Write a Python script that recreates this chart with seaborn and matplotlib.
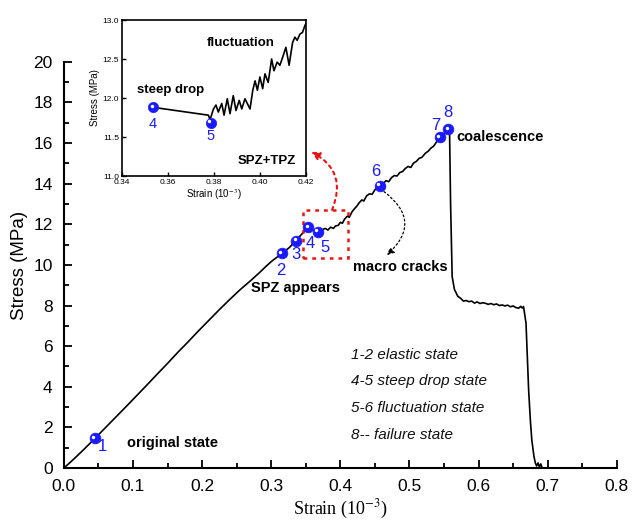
import numpy as np
import pandas as pd
import matplotlib
matplotlib.use("Agg")
import matplotlib.pyplot as plt
import seaborn as sns
from matplotlib.patches import Rectangle
from matplotlib.ticker import MultipleLocator
import matplotlib.transforms as mtransforms

# ---------------- data ----------------
strain = [0.000, 0.010, 0.020, 0.030, 0.045, 0.060, 0.075, 0.090, 0.105, 0.120,
          0.135, 0.150, 0.165, 0.180, 0.195, 0.210, 0.225, 0.240, 0.255, 0.270,
          0.283, 0.293, 0.302, 0.310, 0.316, 0.326, 0.336,
          0.345, 0.3535, 0.360, 0.3675, 0.372, 0.378, 0.382, 0.386, 0.390, 0.393,
          0.397, 0.400, 0.403, 0.406, 0.410, 0.413, 0.417, 0.420, 0.424, 0.427,
          0.431, 0.434, 0.438, 0.442, 0.446, 0.450, 0.457, 0.462, 0.466, 0.470,
          0.474, 0.478, 0.482, 0.486, 0.490, 0.494, 0.498, 0.502, 0.506, 0.510,
          0.514, 0.518, 0.523, 0.527, 0.531, 0.535, 0.539, 0.544, 0.548, 0.552,
          0.556, 0.558, 0.5595, 0.5618, 0.565, 0.570, 0.574, 0.578, 0.582, 0.586,
          0.590, 0.594, 0.598, 0.602, 0.606, 0.610, 0.614, 0.618, 0.622, 0.626,
          0.630, 0.634, 0.638, 0.642, 0.646, 0.650, 0.654, 0.658, 0.661, 0.663,
          0.665, 0.6686, 0.6705, 0.6724, 0.675, 0.677, 0.680, 0.682, 0.684, 0.686,
          0.688, 0.690, 0.692]
stress = [0.00, 0.30, 0.62, 0.95, 1.46, 1.98, 2.50, 3.02, 3.55, 4.08,
          4.62, 5.15, 5.70, 6.22, 6.76, 7.28, 7.80, 8.30, 8.78, 9.22,
          9.62, 9.95, 10.22, 10.42, 10.58, 10.85, 11.20,
          11.55, 11.86, 11.74, 11.64, 11.70, 11.80, 11.72, 11.86, 11.80, 11.92,
          11.95, 12.10, 12.05, 12.25, 12.40, 12.35, 12.62, 12.75, 12.90, 13.05,
          13.20, 13.15, 13.40, 13.50, 13.48, 13.70, 13.89, 14.00, 14.15, 14.10,
          14.30, 14.40, 14.38, 14.55, 14.60, 14.75, 14.85, 14.80, 15.02, 15.10,
          15.25, 15.30, 15.50, 15.60, 15.75, 15.85, 16.05, 16.29, 16.40, 16.55,
          16.68, 16.60, 13.00, 9.42, 8.80, 8.45, 8.36, 8.22, 8.25, 8.19,
          8.22, 8.12, 8.18, 8.10, 8.14, 8.11, 8.06, 8.10, 8.04, 8.08,
          8.00, 8.03, 7.98, 8.02, 7.94, 7.98, 7.90, 7.87, 7.96, 7.88,
          7.95, 7.14, 5.50, 3.84, 2.30, 1.38, 0.60, 0.25, 0.10, 0.25,
          0.05, 0.20, 0.00]

point_labels = ["1", "2", "3", "4", "5", "6", "7", "8"]
point_strain = [0.0447, 0.3156, 0.336, 0.3535, 0.3675, 0.457, 0.544, 0.556]
point_stress = [1.46, 10.58, 11.20, 11.86, 11.64, 13.89, 16.29, 16.68]
label_x = [0.0563, 0.3146, 0.336, 0.3564, 0.378, 0.4512, 0.538, 0.5556]
label_y = [1.08, 9.75, 10.49, 11.08, 10.84, 14.60, 16.85, 17.49]

inset_strain = [0.3537, 0.3776, 0.3783, 0.3798, 0.3809, 0.3819, 0.3834, 0.3844,
                0.3858, 0.3870, 0.3884, 0.3896, 0.3910, 0.3921, 0.3935, 0.3957,
                0.3969, 0.3979, 0.3989, 0.4000, 0.4012, 0.4022, 0.4036, 0.4051,
                0.4061, 0.4075, 0.4087, 0.4101, 0.4113, 0.4127, 0.4142, 0.4152,
                0.4162, 0.4174, 0.4185, 0.4196, 0.4203]
inset_stress = [11.88, 11.78, 11.72, 11.86, 11.91, 11.82, 11.93, 11.78,
                11.99, 11.80, 12.03, 11.84, 11.97, 11.86, 11.99, 11.86,
                12.10, 12.22, 12.10, 12.27, 12.12, 12.31, 12.20, 12.50,
                12.35, 12.46, 12.42, 12.54, 12.65, 12.42, 12.71, 12.78,
                12.74, 12.82, 12.84, 12.93, 12.97]
inset_point_labels = ["4", "5"]
inset_point_strain = [0.3537, 0.3786]
inset_point_stress = [11.88, 11.68]
inset_label_x = [0.3535, 0.3786]
inset_label_y = [11.67, 11.51]

state_notes = ["1-2 elastic state", "4-5 steep drop state",
               "5-6 fluctuation state", "8-- failure state"]

# ---------------- style ----------------
sns.set_theme(style="ticks")
plt.rcParams["font.family"] = ["Liberation Sans", "DejaVu Sans"]
plt.rcParams["mathtext.fontset"] = "stix"
for k in ["text.color", "axes.labelcolor", "xtick.color", "ytick.color", "axes.edgecolor"]:
    plt.rcParams[k] = "black"
BLUE = "#1a1aff"

fig = plt.figure(figsize=(6.32, 5.2), dpi=100)
ax = fig.add_axes([0.101, 0.10, 0.875, 0.781])

main_df = pd.DataFrame({"strain": strain, "stress": stress})
sns.lineplot(data=main_df, x="strain", y="stress", ax=ax, color="black",
             linewidth=1.2, estimator=None, sort=False)

pts_df = pd.DataFrame({"strain": point_strain, "stress": point_stress})
sns.scatterplot(data=pts_df, x="strain", y="stress", ax=ax, color=BLUE,
                s=60, edgecolor=BLUE, linewidth=0.5, zorder=5)
hl = ax.transData + mtransforms.ScaledTranslation(-1.5 / 100, 1.5 / 100, fig.dpi_scale_trans)
ax.scatter(point_strain, point_stress, s=6, color="white", zorder=6, transform=hl,
           linewidths=0)
for t, x, y in zip(point_labels, label_x, label_y):
    ax.text(x, y, t, color=BLUE, fontsize=12, ha="center", va="center")

ax.set_xlim(0, 0.8)
ax.set_ylim(0, 20)
ax.xaxis.set_major_locator(MultipleLocator(0.1))
ax.xaxis.set_minor_locator(MultipleLocator(0.05))
ax.yaxis.set_major_locator(MultipleLocator(2))
ax.yaxis.set_minor_locator(MultipleLocator(1))
ax.xaxis.set_major_formatter(matplotlib.ticker.FormatStrFormatter("%.1f"))
ax.tick_params(which="both", direction="in", width=1.3, labelsize=12.5)
ax.tick_params(which="major", length=6)
ax.tick_params(which="minor", length=3.5)
ax.tick_params(axis="x", which="major", pad=8)
ax.tick_params(axis="y", which="major", pad=8)
for s in ["top", "right"]:
    ax.spines[s].set_visible(False)
for s in ["left", "bottom"]:
    ax.spines[s].set_linewidth(1.5)
ax.set_xlabel(r"Strain (10$^{-3}$)", fontsize=13, family="Liberation Serif", labelpad=3)
ax.set_ylabel("Stress (MPa)", fontsize=13.5, labelpad=4)

# annotations
ax.text(0.157, 1.23, "original state", fontsize=10.5, fontweight="bold", ha="center", va="center")
ax.text(0.3355, 8.87, "SPZ appears", fontsize=10.5, fontweight="bold", ha="center", va="center")
ax.text(0.4873, 9.92, "macro cracks", fontsize=10.5, fontweight="bold", ha="center", va="center")
ax.text(0.6316, 16.32, "coalescence", fontsize=10.5, fontweight="bold", ha="center", va="center")
for i, note in enumerate(state_notes):
    ax.text(0.4156, [5.57, 4.29, 2.96, 1.63][i], note, fontsize=11, style="italic",
            ha="left", va="center", color="#111111")

ax.add_patch(Rectangle((0.3457, 10.33), 0.0648, 2.38, fill=False, ec="#ee1111",
                       ls=(0, (1.5, 2)), lw=1.8, zorder=4))
ax.annotate("", xy=(0.358, 15.57), xytext=(0.388, 12.71),
            arrowprops=dict(arrowstyle="-|>", color="#ee1111", lw=1.5, ls=(0, (1.5, 2)),
                            connectionstyle="arc3,rad=0.45", mutation_scale=12,
                            shrinkA=0, shrinkB=0))
ax.annotate("", xy=(0.4675, 10.49), xytext=(0.4632, 13.61),
            arrowprops=dict(arrowstyle="-|>", color="black", lw=0.9, ls=(0, (1.5, 2)),
                            connectionstyle="arc3,rad=-0.6", mutation_scale=10,
                            shrinkA=0, shrinkB=0))

# ---------------- inset ----------------
axi = fig.add_axes([0.193, 0.6615, 0.291, 0.30])
in_df = pd.DataFrame({"strain": inset_strain, "stress": inset_stress})
sns.lineplot(data=in_df, x="strain", y="stress", ax=axi, color="black",
             linewidth=1.2, estimator=None, sort=False)
ipts = pd.DataFrame({"strain": inset_point_strain, "stress": inset_point_stress})
sns.scatterplot(data=ipts, x="strain", y="stress", ax=axi, color=BLUE, s=55,
                edgecolor=BLUE, linewidth=0.5, zorder=5)
hli = axi.transData + mtransforms.ScaledTranslation(-1.5 / 100, 1.5 / 100, fig.dpi_scale_trans)
axi.scatter(inset_point_strain, inset_point_stress, s=6, color="white", zorder=6,
            transform=hli, linewidths=0)
for t, x, y in zip(inset_point_labels, inset_label_x, inset_label_y):
    axi.text(x, y, t, color=BLUE, fontsize=10.5, ha="center", va="center")
axi.set_xlim(0.34, 0.42)
axi.set_ylim(11.0, 13.0)
axi.xaxis.set_major_locator(MultipleLocator(0.02))
axi.yaxis.set_major_locator(MultipleLocator(0.5))
axi.xaxis.set_major_formatter(matplotlib.ticker.FormatStrFormatter("%.2f"))
axi.yaxis.set_major_formatter(matplotlib.ticker.FormatStrFormatter("%.1f"))
axi.tick_params(direction="in", length=3, width=1, labelsize=6, pad=2)
for s in axi.spines.values():
    s.set_linewidth(1.2)
axi.set_xlabel(r"Strain (10$^{-3}$)", fontsize=7, labelpad=1)
axi.set_ylabel("Stress (MPa)", fontsize=7, labelpad=2)
axi.text(0.3917, 12.71, "fluctuation", fontsize=9.5, fontweight="bold", ha="center", va="center")
axi.text(0.3611, 12.105, "steep drop", fontsize=9.5, fontweight="bold", ha="center", va="center")
axi.text(0.4032, 11.19, "SPZ+TPZ", fontsize=9.5, fontweight="bold", ha="center", va="center")

fig.savefig("out.png", dpi=100)
